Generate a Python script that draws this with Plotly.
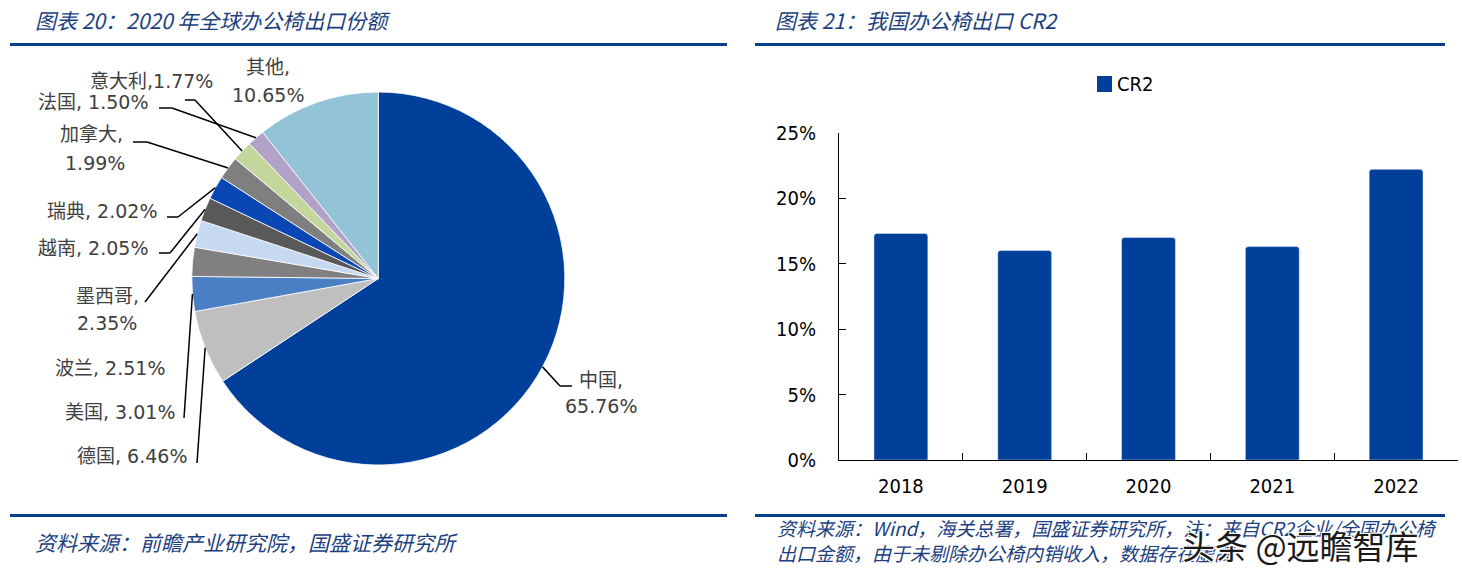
import math
import plotly.graph_objects as go

W, H = 1462, 576

# ---------------- data ----------------
countries = ["中国", "德国", "美国", "波兰", "墨西哥", "越南", "瑞典", "加拿大", "意大利", "法国", "其他"]
shares = [65.76, 6.46, 3.01, 2.51, 2.35, 2.05, 2.02, 1.99, 1.77, 1.50, 10.65]
slice_colors = ["#00409A", "#BFBFBF", "#4A7FC4", "#808080", "#C6D9F1", "#595959",
                "#0A46B4", "#7F7F7F", "#C3D69B", "#B3A2C7", "#93C3D6"]

years = ["2018", "2019", "2020", "2021", "2022"]
cr2 = [0.173, 0.160, 0.170, 0.163, 0.222]
y_ticks = [0, 0.05, 0.10, 0.15, 0.20, 0.25]

title_left = "图表 20：2020 年全球办公椅出口份额"
title_right = "图表 21：我国办公椅出口 CR2"
source_left = "资料来源：前瞻产业研究院，国盛证券研究所"
source_right_1 = "资料来源：Wind，海关总署，国盛证券研究所，注：来自CR2企业/全国办公椅"
source_right_2 = "出口金额，由于未剔除办公椅内销收入，数据存在虚高"
watermark = "头条 @远瞻智库"

# ---------------- layout constants ----------------
BLUE_TXT = "#1C3F7F"
LINE_BLUE = "#0B3F8C"
LABEL_CLR = "#404040"
PIE_CX, PIE_CY, PIE_R = 378.3, 278.5, 186.5  # pixels


def px(x):
    return x / W


def py(y):
    return 1 - y / H


fig = go.Figure()

fig.add_trace(go.Pie(
    labels=countries, values=shares, sort=False, direction="clockwise", rotation=0,
    marker=dict(colors=slice_colors, line=dict(color="white", width=0.8)),
    textinfo="none", hoverinfo="label+percent", showlegend=False,
    domain=dict(x=[px(PIE_CX - PIE_R), px(PIE_CX + PIE_R)],
                y=[py(PIE_CY + PIE_R), py(PIE_CY - PIE_R)]),
))

fig.add_trace(go.Bar(
    x=years, y=cr2, name="CR2", marker=dict(color="#00409A", cornerradius=3),
    xaxis="x", yaxis="y", showlegend=False, width=0.435,
))

# slice mid-angle edge points from the data
total = sum(shares)
edge = {}
cum = 0.0
for name, v in zip(countries, shares):
    mid = (cum + v / 2) / total * 2 * math.pi
    edge[name] = (PIE_CX + PIE_R * math.sin(mid), PIE_CY - PIE_R * math.cos(mid))
    cum += v

# leader line start points (label side), in pixels
leader_start = {
    "中国": [(572, 386), (560, 386)],
    "德国": [(197, 463)],
    "美国": [(184, 418)],
    "墨西哥": [(145, 302)],
    "越南": [(159, 253), (170, 253)],
    "瑞典": [(167, 217), (178, 217)],
    "加拿大": [(133, 142), (147, 142)],
    "意大利": [(185, 100), (195, 100)],
    "法国": [(159, 108), (172, 108)],
}

shapes = []
for name, pts in leader_start.items():
    pts = pts + [edge[name]]
    for (x0, y0), (x1, y1) in zip(pts[:-1], pts[1:]):
        shapes.append(dict(type="line", xref="paper", yref="paper",
                           x0=px(x0), y0=py(y0), x1=px(x1), y1=py(y1),
                           line=dict(color="black", width=1.5)))

# label placement: (single line: x_left, y, sep) or (two lines: x, y1, y2, anchor)
label_pos = {
    "中国": ("two", 601, 380, 406, "center"),
    "德国": ("one", 75, 456, ", "),
    "美国": ("one", 63, 412, ", "),
    "波兰": ("one", 53, 368, ", "),
    "墨西哥": ("two", 107, 296, 323, "center"),
    "越南": ("one", 36, 248, ", "),
    "瑞典": ("one", 45, 211, ", "),
    "加拿大": ("two", 58, 134, 163, "left"),
    "意大利": ("one", 88, 81, ","),
    "法国": ("one", 36, 102, ", "),
    "其他": ("two", 268, 67, 95, "center"),
}

LABEL_FONT = dict(family="DejaVu Sans, Noto Sans CJK SC", size=19, color=LABEL_CLR)
annotations = []
for name, v in zip(countries, shares):
    spec = label_pos[name]
    if spec[0] == "one":
        _, x, y, sep = spec
        annotations.append(dict(text=f"{name}{sep}{v:.2f}%", x=px(x), y=py(y),
                                xref="paper", yref="paper", xanchor="left", yanchor="middle",
                                showarrow=False, font=LABEL_FONT))
    else:
        _, x, y1, y2, anc = spec
        x2 = x + 5 if name == "加拿大" else x
        annotations.append(dict(text=f"{name},", x=px(x), y=py(y1), xref="paper", yref="paper",
                                xanchor=anc, yanchor="middle", showarrow=False, font=LABEL_FONT))
        annotations.append(dict(text=f"{v:.2f}%", x=px(x2), y=py(y2), xref="paper", yref="paper",
                                xanchor=anc, yanchor="middle", showarrow=False, font=LABEL_FONT))

TITLE_FONT = dict(family="Noto Sans CJK SC", size=21, color=BLUE_TXT, style="italic")
SRC_L_FONT = dict(family="Noto Sans CJK SC", size=21, color=BLUE_TXT, style="italic")
SRC_R_FONT = dict(family="Noto Sans CJK SC", size=19, color=BLUE_TXT, style="italic")
for txt, x, y, f in [(title_left, 33, 20, TITLE_FONT), (title_right, 773, 20, TITLE_FONT),
                     (source_left, 33, 542, SRC_L_FONT),
                     (source_right_1 + "<br>" + source_right_2, 775, 540, SRC_R_FONT)]:
    annotations.append(dict(text=txt, x=px(x), y=py(y), xref="paper", yref="paper",
                            xanchor="left", yanchor="middle", align="left",
                            showarrow=False, font=f))

# header / footer rules
for x0, x1 in [(10, 727), (755, 1445)]:
    for yy in (44.5, 515.5):
        shapes.append(dict(type="line", xref="paper", yref="paper",
                           x0=px(x0), x1=px(x1), y0=py(yy), y1=py(yy),
                           line=dict(color=LINE_BLUE, width=3)))

# legend (manual)
shapes.append(dict(type="rect", xref="paper", yref="paper", x0=px(1097), x1=px(1112),
                   y0=py(92), y1=py(76), fillcolor="#00409A", line=dict(width=0)))
annotations.append(dict(text="CR2", x=px(1115), y=py(84), xref="paper", yref="paper",
                        xanchor="left", yanchor="middle", showarrow=False,
                        font=dict(family="DejaVu Sans Condensed", size=20, color="black")))

# watermark
annotations.append(dict(text=watermark, x=px(1180), y=py(545), xref="paper", yref="paper",
                        xanchor="left", yanchor="middle", showarrow=False,
                        font=dict(family="Noto Sans CJK SC", size=33, color="#1A1A1A",
                                  shadow="-1px -1px 0 #fff, 1px -1px 0 #fff, -1px 1px 0 #fff, 1px 1px 0 #fff")))

AX_FONT = dict(family="DejaVu Sans Condensed", size=20, color="black")
fig.update_layout(
    width=W, height=H, margin=dict(l=0, r=0, t=0, b=0, autoexpand=False),
    paper_bgcolor="white", plot_bgcolor="white",
    xaxis=dict(domain=[px(839), px(1458)], anchor="y", type="category",
               showline=True, linecolor="#000", linewidth=1,
               ticks="inside", ticklen=7, tickcolor="#000", tickson="boundaries",
               showgrid=False, tickfont=AX_FONT, ticklabelstandoff=8, fixedrange=True,
               automargin=False),
    yaxis=dict(domain=[py(460), py(132.7)], anchor="x", range=[0, 0.25],
               tickvals=y_ticks, tickformat=".0%",
               showline=True, linecolor="#000", linewidth=1,
               ticks="inside", ticklen=7, tickcolor="#000",
               showgrid=False, zeroline=False, tickfont=AX_FONT, ticklabelstandoff=18,
               fixedrange=True, automargin=False),
    bargap=0.565,
    shapes=shapes, annotations=annotations,
)

fig.write_html("out.html")
